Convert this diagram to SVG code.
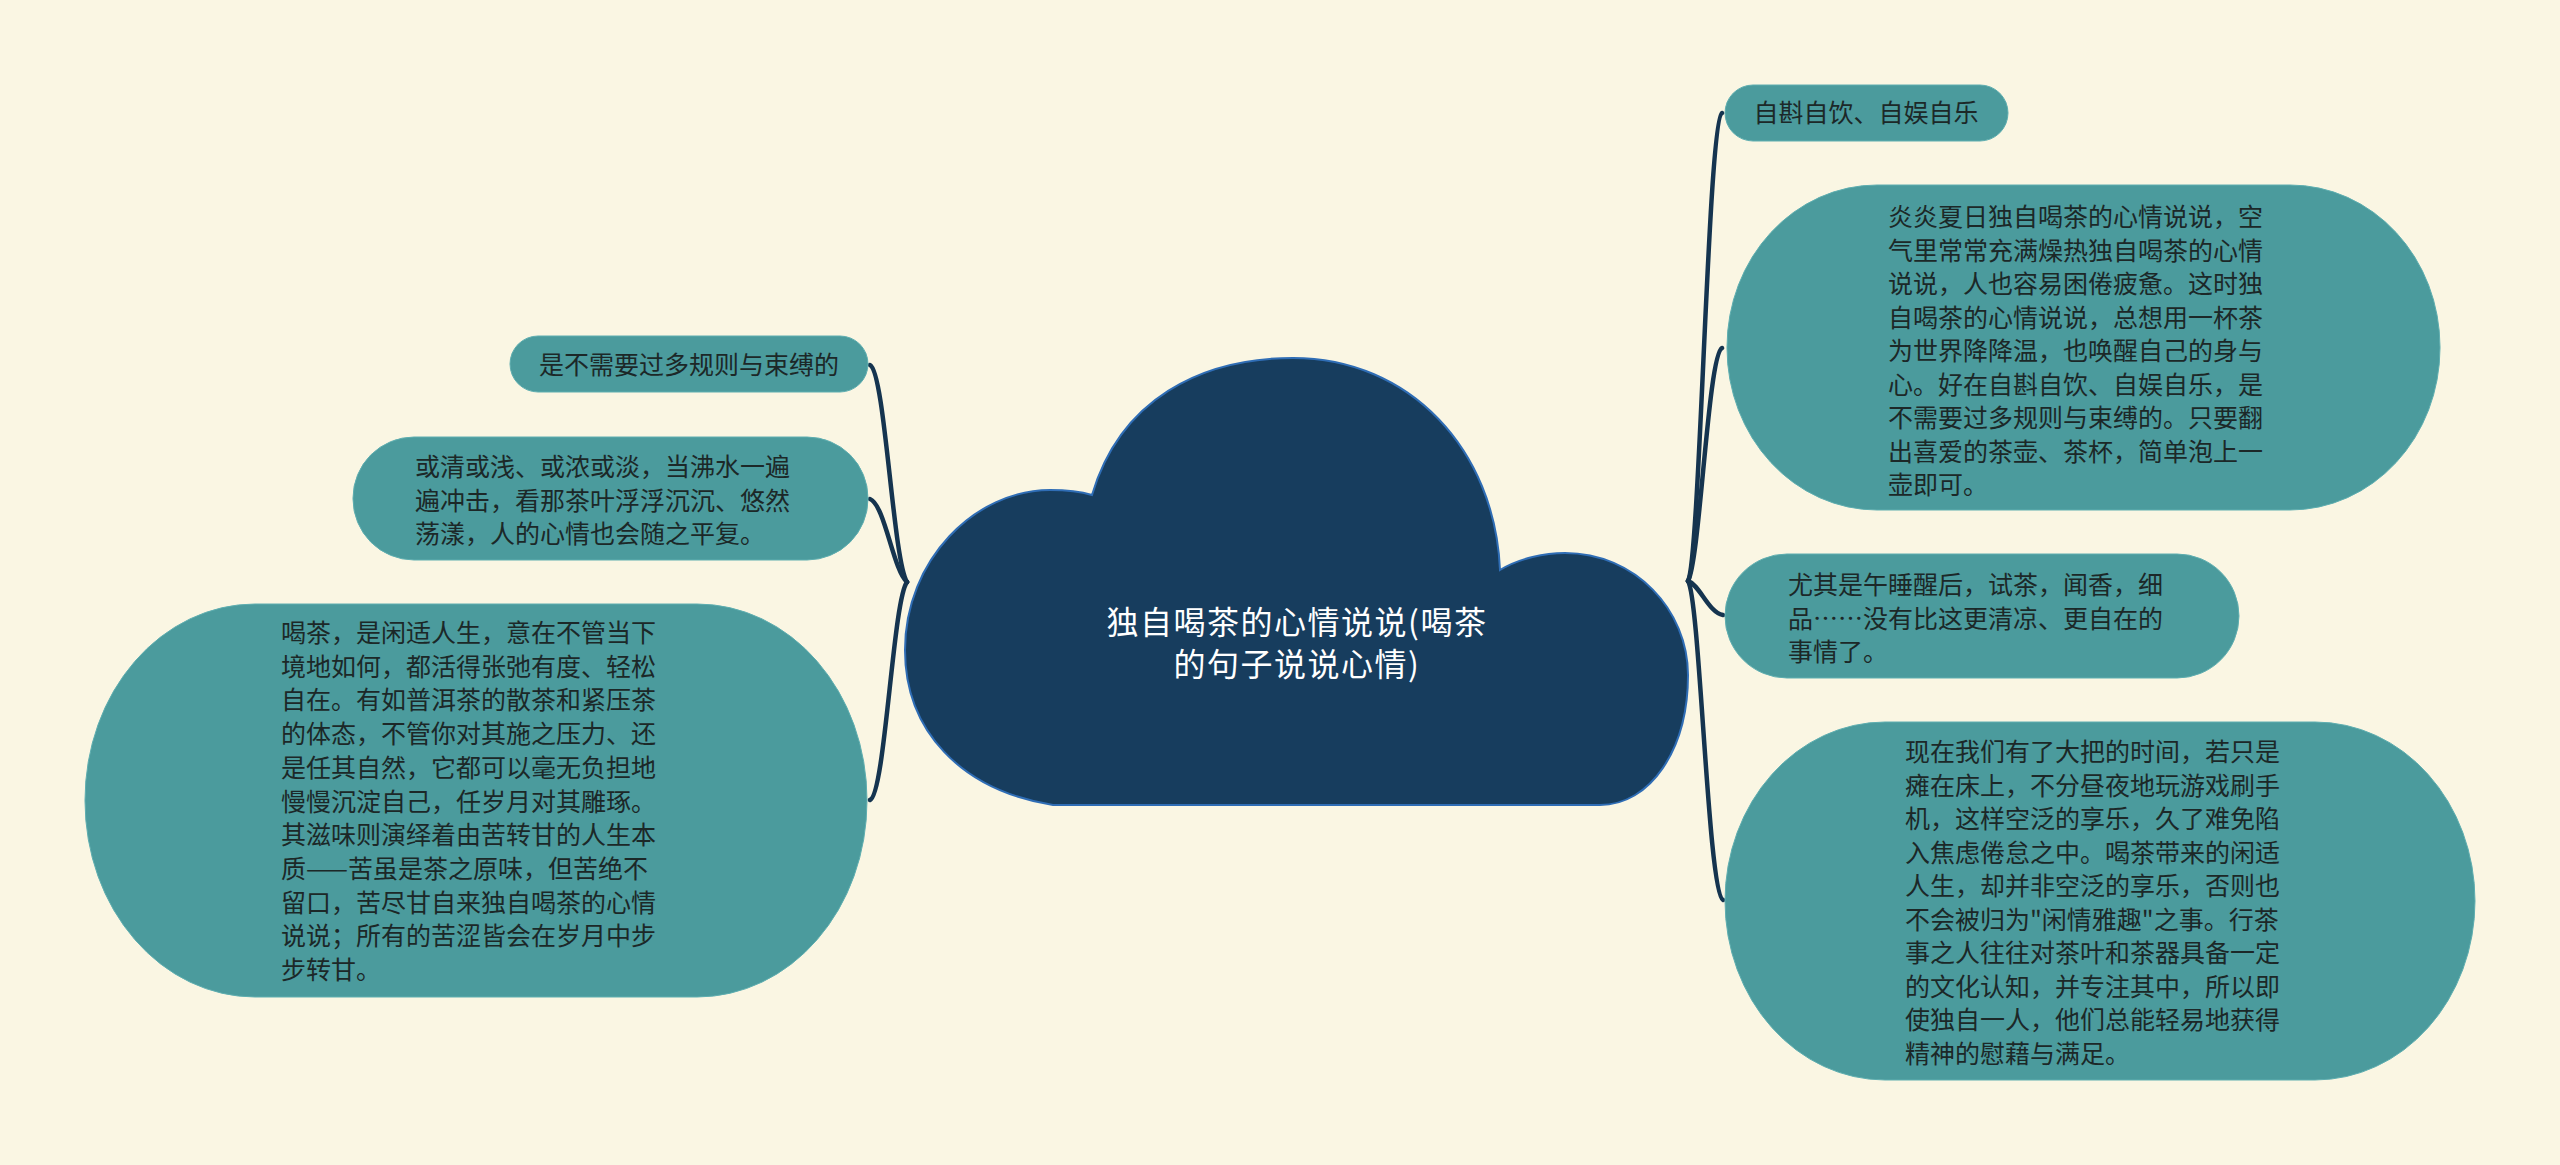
<svg xmlns="http://www.w3.org/2000/svg" width="2560" height="1165" viewBox="0 0 2560 1165">
<style>
.bg{fill:#faf6e3}
.node{fill:#4b9b9d;stroke:#5eaeb0;stroke-width:1}
.t{font-family:"Noto Sans CJK SC","Noto Sans",sans-serif;font-size:25px;fill:#1c2828}
.ct{font-family:"Noto Sans CJK SC","Noto Sans",sans-serif;font-size:32px;fill:#ffffff;text-anchor:middle;letter-spacing:1.5px}
.conn{fill:none;stroke:#15344f;stroke-width:4.5;stroke-linecap:round}
</style>
<rect class="bg" x="0" y="0" width="2560" height="1165"/>
<g id="connectors">
<path class="conn" d="M 907 582 C 893 560, 885 372, 870 365"/>
<path class="conn" d="M 907 582 C 893 570, 885 505, 870 499"/>
<path class="conn" d="M 907 582 C 893 600, 885 795, 870 800"/>
<path class="conn" d="M 1688 581 C 1700 560, 1708 120, 1722 113"/>
<path class="conn" d="M 1688 581 C 1700 560, 1708 355, 1722 348"/>
<path class="conn" d="M 1688 581 C 1700 585, 1708 612, 1723 615"/>
<path class="conn" d="M 1688 581 C 1700 600, 1708 893, 1723 900"/>
</g>
<g id="root">
<path d="M 1053 805 C 960 790, 905 730, 905 650 C 905 560, 975 490, 1050 490 C 1068 490, 1082 492, 1092 495 C 1120 400, 1200 358, 1293 358 C 1410 358, 1495 450, 1500 570 C 1520 558, 1545 553, 1565 553 C 1635 553, 1688 610, 1688 675 C 1688 750, 1650 805, 1600 805 Z" fill="#173d5e" stroke="#2f6db5" stroke-width="2"/>
<text class="ct" x="1297" y="634">独自喝茶的心情说说(喝茶</text>
<text class="ct" x="1297" y="676">的句子说说心情)</text>
</g>
<g id="n-l1">
<rect class="node" x="510" y="336" width="358" height="56" rx="28" ry="28"/>
<text class="t" x="689" y="374" text-anchor="middle">是不需要过多规则与束缚的</text>
</g>
<g id="n-l2">
<rect class="node" x="353" y="437" width="515" height="123" rx="61" ry="61"/>
<text class="t" x="415" y="476">或清或浅、或浓或淡，当沸水一遍<tspan x="415" dy="33.5">遍冲击，看那茶叶浮浮沉沉、悠然</tspan><tspan x="415" dy="33.5">荡漾，人的心情也会随之平复。</tspan></text>
</g>
<g id="n-l3">
<rect class="node" x="85" y="604" width="782" height="393" rx="170" ry="196"/>
<text class="t" x="281" y="642">喝茶，是闲适人生，意在不管当下<tspan x="281" dy="33.7">境地如何，都活得张弛有度、轻松</tspan><tspan x="281" dy="33.7">自在。有如普洱茶的散茶和紧压茶</tspan><tspan x="281" dy="33.7">的体态，不管你对其施之压力、还</tspan><tspan x="281" dy="33.7">是任其自然，它都可以毫无负担地</tspan><tspan x="281" dy="33.7">慢慢沉淀自己，任岁月对其雕琢。</tspan><tspan x="281" dy="33.7">其滋味则演绎着由苦转甘的人生本</tspan><tspan x="281" dy="33.7">质——苦虽是茶之原味，但苦绝不</tspan><tspan x="281" dy="33.7">留口，苦尽甘自来独自喝茶的心情</tspan><tspan x="281" dy="33.7">说说；所有的苦涩皆会在岁月中步</tspan><tspan x="281" dy="33.7">步转甘。</tspan></text>
</g>
<g id="n-r1">
<rect class="node" x="1725" y="85" width="283" height="56" rx="28" ry="28"/>
<text class="t" x="1866" y="122" text-anchor="middle">自斟自饮、自娱自乐</text>
</g>
<g id="n-r2">
<rect class="node" x="1727" y="185" width="713" height="325" rx="150" ry="162"/>
<text class="t" x="1888" y="226">炎炎夏日独自喝茶的心情说说，空<tspan x="1888" dy="33.5">气里常常充满燥热独自喝茶的心情</tspan><tspan x="1888" dy="33.5">说说，人也容易困倦疲惫。这时独</tspan><tspan x="1888" dy="33.5">自喝茶的心情说说，总想用一杯茶</tspan><tspan x="1888" dy="33.5">为世界降降温，也唤醒自己的身与</tspan><tspan x="1888" dy="33.5">心。好在自斟自饮、自娱自乐，是</tspan><tspan x="1888" dy="33.5">不需要过多规则与束缚的。只要翻</tspan><tspan x="1888" dy="33.5">出喜爱的茶壶、茶杯，简单泡上一</tspan><tspan x="1888" dy="33.5">壶即可。</tspan></text>
</g>
<g id="n-r3">
<rect class="node" x="1725" y="554" width="514" height="124" rx="62" ry="62"/>
<text class="t" x="1788" y="594">尤其是午睡醒后，试茶，闻香，细<tspan x="1788" dy="33.5">品……没有比这更清凉、更自在的</tspan><tspan x="1788" dy="33.5">事情了。</tspan></text>
</g>
<g id="n-r4">
<rect class="node" x="1725" y="722" width="750" height="358" rx="160" ry="179"/>
<text class="t" x="1905" y="761">现在我们有了大把的时间，若只是<tspan x="1905" dy="33.5">瘫在床上，不分昼夜地玩游戏刷手</tspan><tspan x="1905" dy="33.5">机，这样空泛的享乐，久了难免陷</tspan><tspan x="1905" dy="33.5">入焦虑倦怠之中。喝茶带来的闲适</tspan><tspan x="1905" dy="33.5">人生，却并非空泛的享乐，否则也</tspan><tspan x="1905" dy="33.5">不会被归为"闲情雅趣"之事。行茶</tspan><tspan x="1905" dy="33.5">事之人往往对茶叶和茶器具备一定</tspan><tspan x="1905" dy="33.5">的文化认知，并专注其中，所以即</tspan><tspan x="1905" dy="33.5">使独自一人，他们总能轻易地获得</tspan><tspan x="1905" dy="33.5">精神的慰藉与满足。</tspan></text>
</g>
</svg>
